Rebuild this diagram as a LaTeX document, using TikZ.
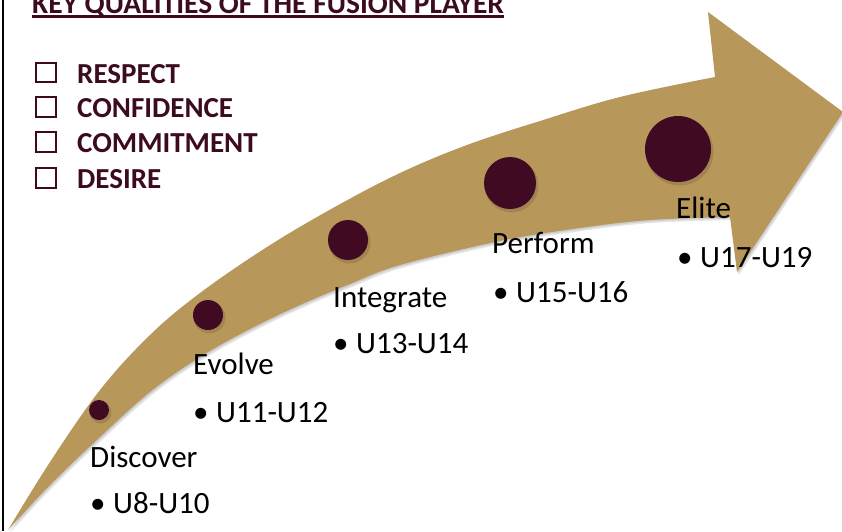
\documentclass[tikz,border=0pt]{standalone}
\usepackage{fontspec}
\setmainfont{Carlito}
\definecolor{arrowtan}{HTML}{B8975A}
\definecolor{dotmaroon}{HTML}{3F0A22}
\definecolor{textmaroon}{HTML}{3C0B22}
\newcommand\arrowshape{plot[smooth,tension=0.6] coordinates {(8,530) (50,462) (100,390) (150,335) (200,293) (267,247) (333,208) (400,173) (467,145) (540,121) (620,97) (715,77)} -- (708,12) -- (843,112) -- (737,272) -- (730,217) -- plot[smooth,tension=0.6] coordinates {(730,217) (650,220) (580,228) (500,241) (400,265) (350,284) (300,305) (250,329) (200,357) (150,392) (100,437) (50,485) (8,530)} -- cycle}
\begin{document}
\begin{tikzpicture}[x=1pt,y=-1pt,
  lbl/.style={anchor=base west,inner sep=0pt,font=\fontsize{31}{37}\selectfont,text=black},
  qual/.style={anchor=base west,inner sep=0pt,font=\fontsize{29}{35}\selectfont\bfseries,text=textmaroon},
  cbox/.style={draw=textmaroon,line width=1.6pt,minimum width=19.5pt,minimum height=19.5pt,inner sep=0pt,rectangle},
  dot/.style={circle,fill=dotmaroon,inner sep=0pt},
  dotshadow/.style={circle,fill=black,opacity=0.12,inner sep=0pt}]
\useasboundingbox (0,0) rectangle (842,531);
\fill[white] (0,0) rectangle (842,531);
% arrow shadow
\begin{scope}[shift={(2,3)}]
\fill[black,opacity=0.10] \arrowshape;
\end{scope}
\begin{scope}[shift={(1,1.5)}]
\fill[black,opacity=0.10] \arrowshape;
\end{scope}
% arrow
\fill[arrowtan] \arrowshape;
% left border
\draw[line width=2pt] (3,0) -- (3,531);
% title
\node[anchor=base west,inner sep=0pt,font=\fontsize{29.5}{35}\selectfont\bfseries,text=textmaroon] (title) at (32,13) {KEY QUALITIES OF THE FUSION PLAYER};
\draw[textmaroon,line width=2.5pt] ([yshift=-3.5pt]title.base west) -- ([yshift=-3.5pt]title.base east);
% checklist
\node[cbox] (c1) at (46,72.5) {};
\node[cbox] (c2) at (46,107) {};
\node[cbox] (c3) at (46,142) {};
\node[cbox] (c4) at (46,178) {};
\node[qual] (q1) at (77,83) {RESPECT};
\node[qual] (q2) at (77,117) {CONFIDENCE};
\node[qual] (q3) at (77,152) {COMMITMENT};
\node[qual] (q4) at (77,188) {DESIRE};
% dot shadows
\foreach \x/\y/\r in {99/410/20,208/315/30,348/240/40,510/183/52,678/149/66}{
  \node[dotshadow,minimum size=\r pt+2pt] at (\x+1.5,\y+2.5) {};
}
% dots
\node[dot,minimum size=20pt] (d1) at (99,410) {};
\node[dot,minimum size=30pt] (d2) at (208,315) {};
\node[dot,minimum size=40pt] (d3) at (348,240) {};
\node[dot,minimum size=52pt] (d4) at (510,183) {};
\node[dot,minimum size=66pt] (d5) at (678,149) {};
% labels
\node[lbl] (l1) at (90,467) {Discover};
\node[lbl] (b1) at (90,513) {\makebox[23pt][l]{•}U8-U10};
\node[lbl] (l2) at (193,374) {Evolve};
\node[lbl] (b2) at (193,422) {\makebox[23pt][l]{•}U11-U12};
\node[lbl] (l3) at (333,307) {Integrate};
\node[lbl] (b3) at (333,353) {\makebox[23pt][l]{•}U13-U14};
\node[lbl] (l4) at (492,253) {Perform};
\node[lbl] (b4) at (493,302) {\makebox[23pt][l]{•}U15-U16};
\node[lbl] (l5) at (676,218) {Elite};
\node[lbl] (b5) at (677,267) {\makebox[23pt][l]{•}U17-U19};
\end{tikzpicture}
\end{document}
